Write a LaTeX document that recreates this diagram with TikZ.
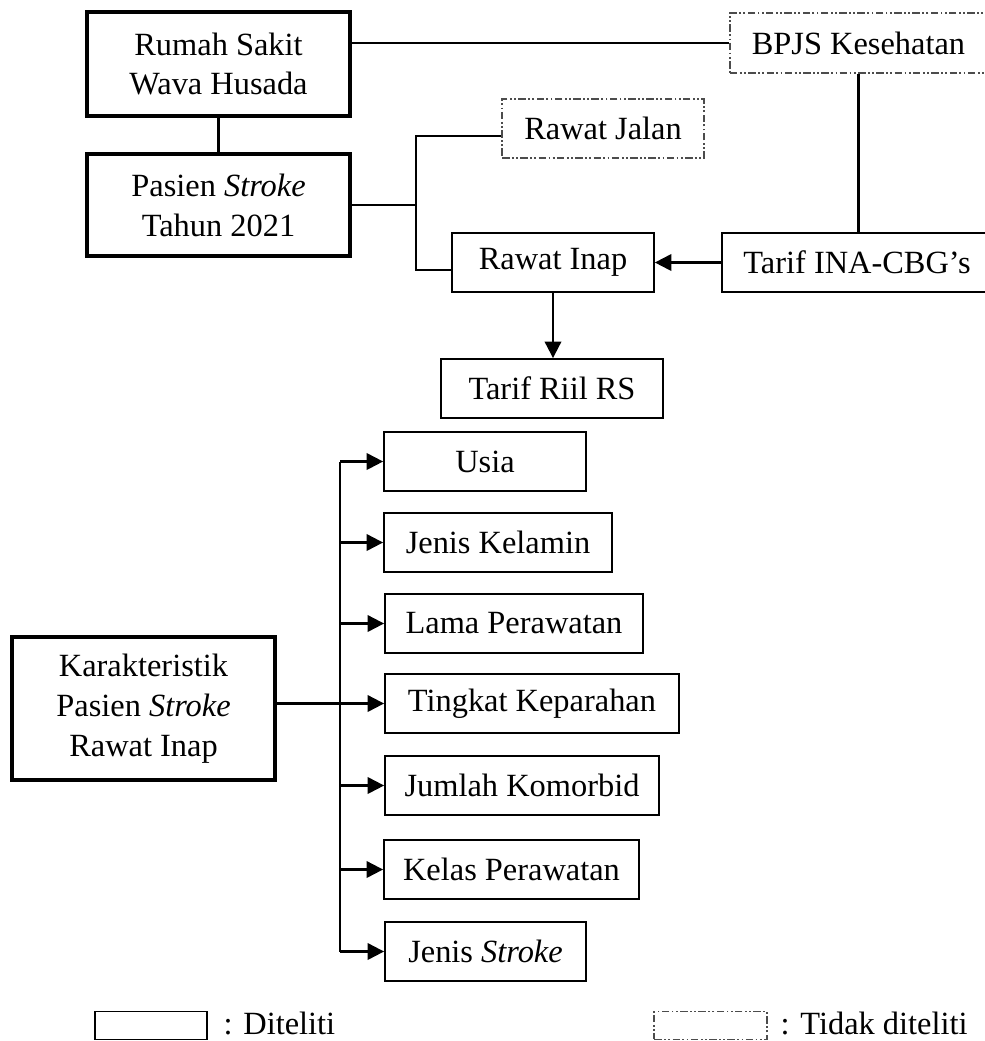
\documentclass[tikz,border=0pt]{standalone}
\usepackage{fontspec}
\setmainfont{Liberation Serif}
\usetikzlibrary{positioning, arrows.meta}
\tikzset{
  box/.style={rectangle, draw, line width=0.6pt, minimum height=19.7pt, inner sep=0pt, align=center},
  mainbox/.style={box, line width=1.1pt},
  notbox/.style={box, draw=black!70, dash pattern=on 2.5pt off 0.8pt on 0.6pt off 0.8pt on 0.6pt off 0.8pt},
  link/.style={line width=0.7pt},
  arrow/.style={link, -{Triangle[length=5.5pt, width=5.5pt]}},
}

\begin{document}
\begin{tikzpicture}[x=0.3333pt, y=-0.3333pt, font=\fontsize{10.8}{13.3}\selectfont]
  \useasboundingbox[fill=white] (0,0) rectangle (985,1041);

  % Top part
  \node[mainbox, minimum width=87.7pt, minimum height=34.7pt] (rs) at (218.5,64) {Rumah Sakit\\Wava Husada};
  \node[mainbox, minimum width=87.7pt, minimum height=34pt] (pasien) at (218.5,205) {Pasien \textit{Stroke}\\Tahun 2021};
  \node[notbox, minimum width=85.7pt, minimum height=20pt] (bpjs) at (858.5,43) {BPJS Kesehatan};
  \node[notbox, minimum width=67.3pt] (jalan) at (603,128.5) {Rawat Jalan};
  \node[box, minimum width=67.3pt] (inap) at (553,262.5) {Rawat Inap};
  \node[box, minimum width=90pt] (ina) at (857,262.5) {Tarif INA-CBG’s};
  \node[box, minimum width=74pt] (riil) at (552,388.5) {Tarif Riil RS};

  \coordinate (jj) at (416,136);
  \coordinate (ji) at (416,270);
  \draw[link] (bpjs.west) -- (bpjs.west -| rs.east);
  \draw[link] (rs.south) -- (pasien.north);
  \draw[link] (pasien.east) -- (pasien.east -| jj);
  \draw[link] (jalan.west |- jj) -- (jj) -- (ji) -- (inap.west |- ji);
  \draw[link] (bpjs.south) -- (bpjs.south |- ina.north);
  \draw[arrow] (ina.west) -- (inap.east);
  \draw[arrow] (inap.south) -- (inap.south |- riil.north);

  % Karakteristik
  \node[mainbox, minimum width=87.7pt, minimum height=47.7pt] (kar) at (143.5,708.5) {Karakteristik\\Pasien \textit{Stroke}\\Rawat Inap};
  \node[box, minimum width=67.3pt] (usia) at (485,461.5) {Usia};
  \node[box, minimum width=76pt] (kelamin) at (498,542.5) {Jenis Kelamin};
  \node[box, minimum width=86pt] (lama) at (514,623.5) {Lama Perawatan};
  \node[box, minimum width=98pt] (tingkat) at (532,703.5) {Tingkat Keparahan};
  \node[box, minimum width=91.3pt] (jumlah) at (522,785.5) {Jumlah Komorbid};
  \node[box, minimum width=85pt] (kelas) at (511.5,869.5) {Kelas Perawatan};
  \node[box, minimum width=67pt] (jenis) at (485.5,951.5) {Jenis \textit{Stroke}};

  \coordinate (bus) at (340,0);
  \draw[link] (usia.west -| bus) -- (jenis.west -| bus);
  \foreach \n in {usia, kelamin, lama, jumlah, kelas, jenis}
    \draw[arrow] (\n.west -| bus) -- (\n.west);
  \draw[arrow] (tingkat.west -| kar.east) -- (tingkat.west);

  % Keterangan
  \node[box, minimum width=37.5pt, minimum height=9.3pt] (ketA) at (151,1025.5) {};
  \node[anchor=base west, inner sep=0pt] (ketAtxt) at (223,1034) {: Diteliti};
  \node[notbox, minimum width=37.5pt, minimum height=9.3pt] (ketB) at (710.5,1025.5) {};
  \node[anchor=base west, inner sep=0pt] (ketBtxt) at (780,1034) {: Tidak diteliti};
\end{tikzpicture}
\end{document}
